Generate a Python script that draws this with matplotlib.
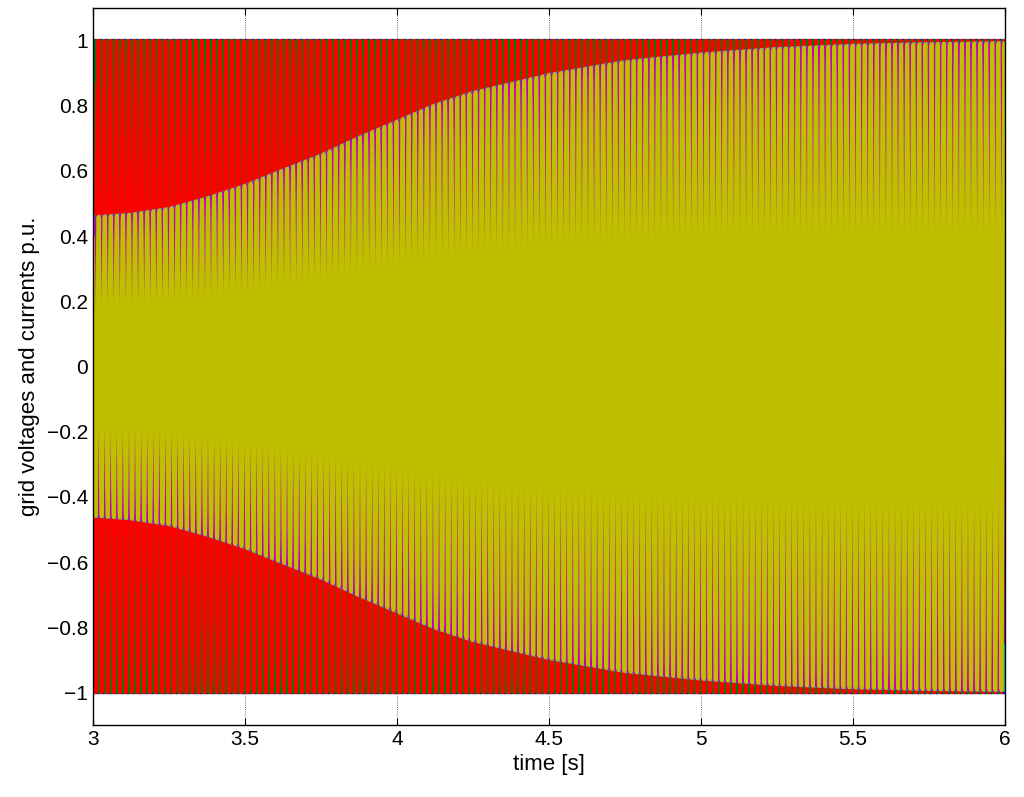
import numpy as np
import matplotlib.pyplot as plt

# grid frequency and time window (~150 cycles in 3 s)
f_grid = 50.0
t_start, t_end = 3.0, 6.0
fs = 10000

# current amplitude envelope (p.u.) read from the upper edge of the yellow band
env_t = [3.0, 3.12, 3.25, 3.37, 3.5, 3.62, 3.75, 3.87, 4.0, 4.12, 4.25,
         4.5, 4.75, 5.0, 5.25, 5.5, 5.75, 6.0]
env_amp = [0.458, 0.466, 0.484, 0.515, 0.555, 0.60, 0.648, 0.70, 0.752,
           0.80, 0.84, 0.895, 0.935, 0.958, 0.975, 0.985, 0.99, 0.993]

v_amp = 1.0
phases = [0.0, -2 * np.pi / 3, 2 * np.pi / 3]
v_colors = ['#0000ff', '#008000', '#ff0000']
i_colors = ['#00bfbf', '#bf00bf', '#bfbf00']

t = np.arange(t_start, t_end, 1.0 / fs)
env = np.interp(t, env_t, env_amp)

fig = plt.figure(figsize=(10.24, 7.97), dpi=100, facecolor='white')
ax = fig.add_axes([0.0908, 0.0903, 0.8906, 0.8996])

lw = 2.8
# voltages
for ph, c in zip(phases, v_colors):
    ax.plot(t, v_amp * np.sin(2 * np.pi * f_grid * t + ph), color=c, linewidth=lw)
# currents
for ph, c in zip(phases, i_colors):
    ax.plot(t, env * np.sin(2 * np.pi * f_grid * t + ph), color=c, linewidth=lw)

ax.set_xlim(3, 6)
ax.set_ylim(-1.1, 1.1)
xt = [3, 3.5, 4, 4.5, 5, 5.5, 6]
yt = [-1, -0.8, -0.6, -0.4, -0.2, 0, 0.2, 0.4, 0.6, 0.8, 1]
ax.set_xticks(xt)
ax.set_xticklabels(['%g' % v for v in xt])
ax.set_yticks(yt)
ax.set_yticklabels([('%g' % v).replace('-', '\u2212') for v in yt])
ax.tick_params(direction='in', top=True, right=True, length=5, labelsize=15,
               width=0.8)
for lab in ax.get_xticklabels() + ax.get_yticklabels():
    lab.set_family('Liberation Sans')
ax.set_axisbelow(True)
ax.grid(True, linestyle=':', color='#404040', linewidth=0.6)
for s in ax.spines.values():
    s.set_linewidth(1.0)

ax.set_xlabel('time [s]', fontsize=16, family='Liberation Sans')
ax.set_ylabel('grid voltages and currents p.u.', fontsize=16, family='Liberation Sans')
ax.yaxis.set_label_coords(-0.058, 0.5)

plt.savefig('out.png', dpi=100)
